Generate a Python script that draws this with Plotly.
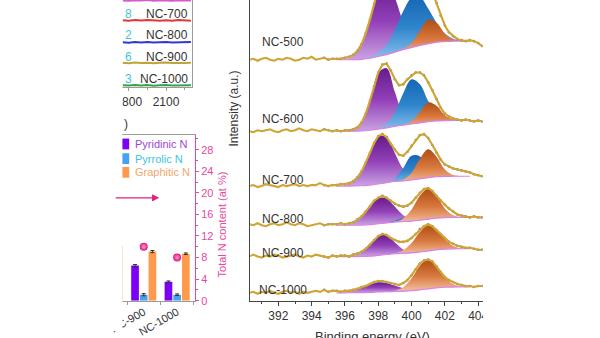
import plotly.graph_objects as go

# ================= DATA =================
# --- XPS N 1s panel (intensity in a.u., spectra stacked with offsets) ---
energy = [390.25, 390.5, 390.75, 391.0, 391.25, 391.5, 391.75, 392.0, 392.25, 392.5,
          392.75, 393.0, 393.25, 393.5, 393.75, 394.0, 394.25, 394.5, 394.75, 395.0,
          395.25, 395.5, 395.75, 396.0, 396.25, 396.5, 396.75, 397.0, 397.25, 397.5,
          397.75, 398.0, 398.25, 398.5, 398.75, 399.0, 399.25, 399.5, 399.75, 400.0,
          400.25, 400.5, 400.75, 401.0, 401.25, 401.5, 401.75, 402.0, 402.25, 402.5,
          402.75, 403.0, 403.25, 403.5, 403.75, 404.0, 404.25]
energy_fit = [395.5, 396.0, 396.5, 397.0, 397.5, 398.0, 398.5, 399.0, 399.5, 400.0,
              400.5, 401.0, 401.5, 402.0, 402.5, 403.0, 403.5]

samples = ["NC-500", "NC-600", "NC-700", "NC-800", "NC-900", "NC-1000"]
offsets = [246, 173, 117, 77, 45, 8]

raw_nc500 = [0, 1, -1, 1, 2, 0, -1, 1, 0, 2, 1, -1, 0, 2, 1, 3, 0, 1, 2, 0, 1,
             1, 1, 2, 3, 5, 9, 16, 27, 41, 57, 72, 83, 89, 89, 86, 82, 78, 77, 77, 79,
             81, 80, 77, 69, 58, 45, 35, 28, 24, 21, 20, 19, 20, 19, 17, 14]
raw_nc600 = [0, -1, 1, 0, 1, 2, 0, -1, 1, 2, 0, 1, 3, 1, 0, 2, 1, 0, 2, 1, 0,
             1, 0, 1, 1, 2, 4, 9, 18, 31, 46, 60, 68, 69, 62, 53, 47, 48, 53, 57, 60,
             60, 57, 50, 42, 33, 24, 18, 15, 13, 12, 11, 12, 11, 10, 11, 10]
raw_nc700 = [0, 1, -1, 0, 2, 1, 0, -1, 1, 0, 1, 2, 0, 1, 0, 1, 1, 3, 1, 0, 1,
             1, 2, 2, 3, 5, 9, 15, 24, 34, 44, 51, 53, 50, 43, 37, 32, 31, 35, 41, 47,
             52, 53, 49, 42, 34, 27, 22, 20, 18, 17, 16, 15, 14, 12, 11, 10]
raw_nc800 = [1, 0, 2, 0, -1, 1, 2, 0, 1, 3, 1, 0, 2, 1, -1, 0, 1, 2, 0, 1, 1,
             1, 2, 1, 2, 3, 6, 9, 14, 19, 25, 28, 30, 28, 25, 22, 20, 19, 20, 23, 28,
             33, 37, 38, 35, 30, 25, 21, 17, 14, 11, 10, 9, 8, 9, 8, 8]
raw_nc900 = [0, 2, 0, -1, 1, 0, 2, 1, -1, 0, 1, 2, 0, -1, 1, 0, 2, 1, 0, -1, 1,
             0, 1, 1, 0, 2, 3, 5, 8, 12, 17, 21, 23, 22, 19, 17, 15, 15, 16, 19, 23,
             28, 31, 33, 31, 27, 23, 19, 15, 13, 11, 10, 9, 9, 8, 7, 7]
raw_nc1000 = [0, 1, -1, 1, 0, 2, 0, -1, 1, 2, 0, 1, -1, 1, 0, 1, 2, 1, 3, 1, 2,
              2, 1, 2, 2, 3, 4, 6, 7, 9, 11, 12, 12, 11, 10, 9, 8, 10, 13, 18, 24,
              30, 33, 34, 32, 27, 21, 16, 13, 11, 9, 8, 7, 7, 6, 7, 7]

# fitted components (height above Shirley background) on energy_fit
pyridinic_nc500 = [0, 0.7, 4.0, 15.1, 38.4, 65.0, 73.4, 55.3, 27.8, 9.3, 2.1, 0.3, 0, 0, 0, 0, 0]
pyrrolic_nc500 = [0, 0, 0, 0.1, 0.8, 3.3, 9.9, 22.8, 39.3, 50.8, 49.4, 36.0, 19.8, 8.1, 2.5, 0.6, 0.1]
graphitic_nc500 = [0, 0, 0, 0, 0, 0, 0, 0, 0.7, 4.5, 15.0, 24.6, 19.9, 8.0, 1.6, 0.2, 0]
shirley_nc500 = [0, 0, 0.1, 0.4, 1.5, 3.5, 5.3, 7.8, 10.4, 12.4, 14.6, 16.3, 17.9, 18.6, 19.0, 19.0, 19.0]

pyridinic_nc600 = [0, 0.1, 1.2, 8.0, 29.1, 57.3, 60.9, 35.0, 10.9, 1.8, 0.2, 0, 0, 0, 0, 0, 0]
pyrrolic_nc600 = [0, 0, 0, 0, 0.1, 0.7, 4.0, 14.4, 32.6, 45.6, 39.5, 21.2, 7.0, 1.4, 0.2, 0, 0]
graphitic_nc600 = [0, 0, 0, 0, 0, 0, 0, 0, 0.3, 2.8, 11.1, 19.7, 15.4, 5.3, 0.8, 0.1, 0]
shirley_nc600 = [0, 0, 0.1, 0.3, 1.0, 2.2, 3.5, 5.0, 6.2, 7.4, 8.5, 9.7, 10.5, 10.9, 11.0, 11.0, 11.0]

pyridinic_nc700 = [0.1, 0.8, 4.2, 14.6, 32.9, 48.3, 46.3, 28.9, 11.8, 3.1, 0.5, 0.1, 0, 0, 0, 0, 0]
pyrrolic_nc700 = [0, 0, 0, 0, 0, 0, 0.4, 3.4, 13.0, 24.6, 22.9, 10.5, 2.4, 0.3, 0, 0, 0]
graphitic_nc700 = [0, 0, 0, 0, 0, 0, 0, 0.1, 1.2, 7.0, 20.4, 29.0, 20.4, 7.0, 1.2, 0.1, 0]
shirley_nc700 = [0, 0, 0.1, 0.3, 1.0, 2.1, 3.5, 4.7, 5.4, 6.3, 7.4, 8.6, 9.5, 9.9, 10.0, 10.0, 10.0]

pyridinic_nc800 = [0.1, 0.4, 2.3, 7.9, 17.8, 26.1, 25.0, 15.6, 6.4, 1.7, 0.3, 0.1, 0, 0, 0, 0, 0]
pyrrolic_nc800 = [0, 0, 0, 0, 0, 0, 0.4, 1.6, 3.5, 3.8, 2.0, 0.5, 0.1, 0, 0, 0, 0]
graphitic_nc800 = [0, 0, 0, 0, 0, 0, 0, 0.5, 3.2, 11.7, 24.9, 31.0, 22.3, 9.4, 2.3, 0.3, 0]
shirley_nc800 = [0, 0, 0, 0.2, 0.7, 1.5, 2.4, 3.2, 3.8, 4.3, 5.1, 6.2, 7.2, 7.8, 7.9, 8.0, 8.0]

pyridinic_nc900 = [0, 0.1, 0.8, 3.9, 11.4, 19.6, 19.6, 11.4, 3.9, 0.8, 0.1, 0, 0, 0, 0, 0, 0]
pyrrolic_nc900 = [0, 0, 0, 0, 0, 0, 0.1, 0.8, 2.3, 3.0, 1.7, 0.4, 0.1, 0, 0, 0, 0]
graphitic_nc900 = [0, 0, 0, 0, 0, 0, 0.1, 0.6, 3.0, 10.0, 20.5, 26.0, 20.5, 10.0, 3.0, 0.6, 0.1]
shirley_nc900 = [0, 0, 0, 0.1, 0.4, 1.2, 2.1, 2.9, 3.4, 3.8, 4.7, 5.8, 6.9, 7.6, 7.9, 8.0, 8.0]

pyridinic_nc1000 = [0.1, 0.6, 2.0, 4.7, 8.0, 9.9, 9.0, 6.0, 2.9, 1.0, 0.3, 0.1, 0, 0, 0, 0, 0]
pyrrolic_nc1000 = [0, 0, 0, 0, 0, 0, 0.1, 0.5, 1.5, 2.0, 1.1, 0.3, 0, 0, 0, 0, 0]
graphitic_nc1000 = [0, 0, 0, 0, 0, 0, 0.1, 0.8, 4.0, 12.6, 24.7, 29.9, 22.4, 10.4, 3.0, 0.5, 0.1]
shirley_nc1000 = [0, 0, 0.1, 0.2, 0.4, 0.8, 1.1, 1.4, 1.7, 2.2, 3.0, 4.1, 5.1, 5.7, 5.9, 6.0, 6.0]

xps_ticks = [392, 394, 396, 398, 400, 402, 404]
xps_minor = [391, 393, 395, 397, 399, 401, 403]

# --- top-left panel (cropped line spectra) ---
shift = [1750, 1800, 1850, 1900, 1950, 2000, 2050, 2100, 2150, 2200, 2250, 2300]
line_nc600 = [88.6, 88.2, 88.8, 88.4, 88.9, 88.3, 88.7, 88.5, 88.2, 88.8, 88.4, 88.6]
line_nc700 = [68.3, 67.8, 68.5, 68.0, 68.6, 68.1, 67.8, 68.4, 67.9, 68.5, 68.1, 67.9]
line_nc800 = [45.9, 45.4, 46.1, 45.6, 46.0, 45.5, 45.8, 46.2, 45.5, 45.9, 45.6, 46.0]
line_nc900 = [24.9, 24.4, 25.1, 24.6, 25.0, 24.5, 24.8, 25.2, 24.6, 25.0, 24.7, 24.9]
line_nc1000 = [2.0, 1.6, 2.2, 1.7, 2.1, 1.5, 1.9, 2.2, 1.7, 2.0, 1.6, 1.9]
top_labels = ["NC-700", "NC-800", "NC-900", "NC-1000"]
top_values_visible = ["8", "2", "6", "3"]
top_ticks = [1800, 2100]
top_minor = [1950, 2250]

# --- bar panel (N species) ---
bar_groups = ["NC-800", "NC-900", "NC-1000"]
bar_pos = [0, 1, 2]
pyridinic_n = [7.6, 6.5, 3.5]
pyrrolic_n = [1.2, 1.1, 1.1]
graphitic_n = [10.2, 9.1, 8.7]
bar_err = [0.2, 0.2, 0.15]
total_n = [11.5, 10.0, 8.0]
total_ticks = [0, 4, 8, 12, 16, 20, 24, 28]
total_minor = [2, 6, 10, 14, 18, 22, 26, 30]
legend_names = ["Pyridinic N", "Pyrrolic N", "Graphitic N"]

# ================= STYLE =================
W, H = 600, 338


def px(x):
    return x / W


def py(y):
    return 1 - y / H


FONT = "Arial"
GOLD = "#cfa433"
PINK = "#e6489c"
grad_purple = [[0, "#caa3e2"], [0.5, "#9240b8"], [1, "#661b8a"]]
grad_blue = [[0, "#8cc2ec"], [0.5, "#2f86cc"], [1, "#1666b4"]]
grad_orange = [[0, "#f6c9ad"], [0.5, "#d9793f"], [1, "#b04e14"]]

raw = [raw_nc500, raw_nc600, raw_nc700, raw_nc800, raw_nc900, raw_nc1000]
pyridinic = [pyridinic_nc500, pyridinic_nc600, pyridinic_nc700, pyridinic_nc800, pyridinic_nc900, pyridinic_nc1000]
pyrrolic = [pyrrolic_nc500, pyrrolic_nc600, pyrrolic_nc700, pyrrolic_nc800, pyrrolic_nc900, pyrrolic_nc1000]
graphitic = [graphitic_nc500, graphitic_nc600, graphitic_nc700, graphitic_nc800, graphitic_nc900, graphitic_nc1000]
shirley = [shirley_nc500, shirley_nc600, shirley_nc700, shirley_nc800, shirley_nc900, shirley_nc1000]

fig = go.Figure()

for k, name in enumerate(samples):
    off = offsets[k]
    bg = [off + b for b in shirley[k]]
    for comp, grad in ((pyridinic[k], grad_purple), (pyrrolic[k], grad_blue), (graphitic[k], grad_orange)):
        fig.add_trace(go.Scatter(x=energy_fit, y=bg, mode="lines", line=dict(width=0, shape="spline"),
                                 hoverinfo="skip", xaxis="x", yaxis="y"))
        fig.add_trace(go.Scatter(x=energy_fit, y=[b + c for b, c in zip(bg, comp)], mode="lines",
                                 line=dict(width=0, shape="spline"), fill="tonexty",
                                 fillgradient=dict(type="vertical", colorscale=grad),
                                 hoverinfo="skip", xaxis="x", yaxis="y"))
    fig.add_trace(go.Scatter(x=energy_fit, y=bg, mode="lines", line=dict(width=1.2, color="#dd80e6", shape="spline"),
                             hoverinfo="skip", xaxis="x", yaxis="y"))
    ys = [off + v for v in raw[k]]
    fig.add_trace(go.Scatter(x=energy[18:], y=ys[18:], mode="lines+markers",
                             line=dict(width=0.8, color="#4a4a4a"),
                             marker=dict(size=2.6, color="#808080"),
                             hoverinfo="skip", xaxis="x", yaxis="y"))
    fig.add_trace(go.Scatter(x=energy, y=ys, mode="lines", line=dict(width=2.1, color=GOLD),
                             hoverinfo="skip", xaxis="x", yaxis="y"))

# top-left panel
for vals, col in ((line_nc600, "#d45ad0"), (line_nc700, "#e0393a"), (line_nc800, "#3535d6"),
                  (line_nc900, "#c2a23a"), (line_nc1000, "#36a24a")):
    fig.add_trace(go.Scatter(x=shift, y=vals, mode="lines", line=dict(width=2, color=col),
                             hoverinfo="skip", xaxis="x2", yaxis="y2"))

# bar panel
for vals, col in ((pyridinic_n, "#7c00f5"), (pyrrolic_n, "#45a2f2"), (graphitic_n, "#ff9a4c")):
    fig.add_trace(go.Bar(x=bar_pos, y=vals, marker=dict(color=col, line=dict(width=0)),
                         error_y=dict(type="data", array=bar_err, thickness=1, width=2, color="#333333"),
                         xaxis="x3", yaxis="y3", hoverinfo="skip"))
fig.add_trace(go.Scatter(x=bar_pos, y=total_n, mode="markers",
                         marker=dict(size=8, color="#e0157f", gradient=dict(type="radial", color="#f6a0cf")),
                         xaxis="x3", yaxis="y3", hoverinfo="skip"))

axis_common = dict(showgrid=False, zeroline=False)

fig.update_layout(
    width=W, height=H, margin=dict(l=0, r=0, t=0, b=0),
    paper_bgcolor="white", plot_bgcolor="white", showlegend=False,
    font=dict(family=FONT, color="#333333"),
    barmode="group", bargap=0.22, bargroupgap=0.115,
    xaxis=dict(domain=[px(245), px(485)], range=[390.31, 404.27], anchor="y",
               showline=True, linecolor="#444444", linewidth=1,
               ticks="outside", ticklen=4, tickcolor="#444444", tickvals=xps_ticks,
               tickfont=dict(size=12, color="#333333"),
               minor=dict(tickvals=xps_minor, ticks="outside", ticklen=2, tickcolor="#444444"),
               **axis_common),
    yaxis=dict(domain=[py(307), 1], range=[0, 307], anchor="x", showline=True,
               linecolor="#444444", linewidth=1, showticklabels=False, ticks="", **axis_common),
    xaxis2=dict(domain=[px(113), px(185)], range=[1749, 2310], anchor="y2",
                showline=True, linecolor="#9a9a9a", ticks="outside", ticklen=3, tickcolor="#9a9a9a",
                tickvals=top_ticks, tickfont=dict(size=12, color="#333333"),
                minor=dict(tickvals=top_minor, ticks="outside", ticklen=2, tickcolor="#9a9a9a"),
                **axis_common),
    yaxis2=dict(domain=[py(89), 1], range=[0, 89], anchor="x2", side="right",
                showline=True, linecolor="#9a9a9a", showticklabels=False, ticks="", **axis_common),
    xaxis3=dict(domain=[px(113), px(188)], range=[0.362, 2.536], anchor="y3",
                showline=True, mirror=True, linecolor="#9a9a9a",
                tickvals=bar_pos, ticktext=bar_groups, tickangle=-30, ticks="",
                tickfont=dict(size=11, color="#333333"),
                minor=dict(tickvals=[0.5, 1.5, 2.5], ticks="outside", ticklen=3, tickcolor="#9a9a9a"),
                **axis_common),
    yaxis3=dict(domain=[py(307), py(138)], range=[0, 30.7], anchor="x3", side="right",
                showline=True, linecolor=PINK, ticks="outside", ticklen=3, tickcolor=PINK,
                tickvals=total_ticks, tickfont=dict(size=11, color=PINK),
                minor=dict(tickvals=total_minor, ticks="outside", ticklen=2, tickcolor=PINK),
                **axis_common),
)

ann = []
label_y = [43, 122, 184, 224, 258, 296]
label_x = [255, 255, 255, 255, 255, 252]
for name, lx, ly in zip(samples, label_x, label_y):
    ann.append(dict(x=px(lx), y=py(ly), xref="paper", yref="paper", text=name, showarrow=False,
                    xanchor="left", yanchor="middle", font=dict(size=12, color="#333333")))
ann.append(dict(x=px(228), y=py(111), xref="paper", yref="paper", text="Intensity (a.u.)",
                showarrow=False, textangle=-90, xanchor="center", yanchor="middle",
                font=dict(size=12, color="#333333")))
ann.append(dict(x=px(371), y=py(334), xref="paper", yref="paper", text="Binding energy (eV)",
                showarrow=False, xanchor="center", yanchor="top", font=dict(size=13, color="#333333")))
# top-left panel labels
for name, val, ly in zip(top_labels, top_values_visible, [14, 36, 58, 81]):
    ann.append(dict(x=px(183), y=py(ly), xref="paper", yref="paper", text=name, showarrow=False,
                    xanchor="right", yanchor="middle", font=dict(size=12, color="#333333")))
    ann.append(dict(x=px(114), y=py(ly), xref="paper", yref="paper", text=val, showarrow=False,
                    xanchor="left", yanchor="middle", font=dict(size=12, color="#3cc8d4")))
ann.append(dict(x=px(113), y=py(127), xref="paper", yref="paper", text=")", showarrow=False,
                xanchor="left", yanchor="middle", font=dict(size=12, color="#333333")))
# bar panel legend
leg_cols = ["#7c00f5", "#45a2f2", "#ff9a4c"]
leg_text_cols = ["#9b45d8", "#3cc4d8", "#f0a86a"]
shapes = []
for name, c, tc, ly in zip(legend_names, leg_cols, leg_text_cols, [147, 162, 176]):
    shapes.append(dict(type="rect", xref="paper", yref="paper", x0=px(110), x1=px(120),
                       y0=py(ly + 5.5), y1=py(ly - 5.5), fillcolor=c, line=dict(width=0)))
    ann.append(dict(x=px(124), y=py(ly), xref="paper", yref="paper", text=name, showarrow=False,
                    xanchor="left", yanchor="middle", font=dict(size=11, color=tc)))
ann.append(dict(x=px(216), y=py(229), xref="paper", yref="paper", text="Total N content (at %)",
                showarrow=False, textangle=-90, xanchor="center", yanchor="middle",
                font=dict(size=11, color=PINK)))
ann.append(dict(x=px(151), y=py(202), xref="paper", yref="paper", text="", showarrow=True,
                ax=-45, ay=0, arrowhead=2, arrowsize=1.1, arrowwidth=1.3, arrowcolor="#e0207a"))

# crop masks (figure is cut off at left and right)
shapes.append(dict(type="rect", xref="paper", yref="paper", x0=0, x1=px(113), y0=0, y1=1,
                   fillcolor="white", line=dict(width=0), layer="above"))
shapes.append(dict(type="rect", xref="paper", yref="paper", x0=px(485.5), x1=1, y0=0, y1=1,
                   fillcolor="white", line=dict(width=0), layer="above"))

fig.update_layout(annotations=ann, shapes=shapes)
fig.write_html("out.html")
